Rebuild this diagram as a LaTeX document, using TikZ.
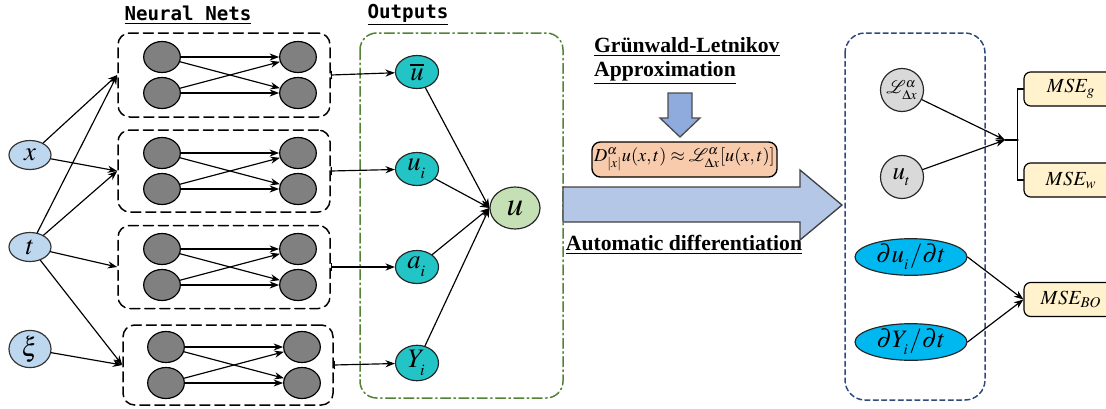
\documentclass[tikz,border=0pt]{standalone}
\usepackage{mathptmx}
\usepackage{fontspec}
\setmainfont{Liberation Serif}
\newfontfamily\labelfont{DejaVu Sans Mono}
\usetikzlibrary{arrows.meta,shapes.geometric}
\definecolor{inblue}{HTML}{BDD7EE}
\definecolor{outteal}{HTML}{22C4C6}
\definecolor{ugreen}{HTML}{C5E0B4}
\definecolor{formorange}{HTML}{F8CBAD}
\definecolor{arrowblue}{HTML}{B4C7E7}
\definecolor{downblue}{HTML}{8FAADC}
\definecolor{boxblue}{HTML}{2E4A7D}
\definecolor{boxgreen}{HTML}{548235}
\definecolor{msefill}{HTML}{FFF2CC}
\definecolor{dcyan}{HTML}{00B8F0}

\begin{document}
\begin{tikzpicture}[x=0.6pt,y=-0.6pt,>={Stealth[length=2mm]},line cap=round,line width=0.7pt,
  innode/.style={ellipse,draw=black!80,fill=inblue,minimum width=25.2pt,minimum height=17.4pt,inner sep=0pt,font=\fontsize{16}{16}\selectfont},
  neuron/.style={ellipse,draw=black,fill=black!50,minimum width=22pt,minimum height=18.6pt,inner sep=0pt},
  netbox/.style={draw,rounded corners=7pt,line width=0.9pt,dash pattern=on 6pt off 3pt,minimum width=127.2pt,inner sep=0pt},
  outnode/.style={ellipse,draw=black!85,fill=outteal,minimum width=25.8pt,minimum height=19.8pt,inner sep=0pt,font=\fontsize{16}{16}\selectfont},
  opnode/.style={circle,draw=black!85,fill=black!15,minimum size=25.8pt,inner sep=0pt},
  dnode/.style={ellipse,draw=black!85,fill=dcyan,minimum width=67.2pt,minimum height=18pt,inner sep=0pt,font=\fontsize{15}{15}\selectfont},
  msebox/.style={draw,rounded corners=4pt,fill=msefill,minimum width=56.4pt,minimum height=20.4pt,inner sep=0pt,font=\fontsize{12}{12}\selectfont},
  title/.style={font=\labelfont\bfseries\fontsize{11.5}{13}\selectfont},
  note/.style={font=\bfseries\fontsize{13}{15}\selectfont}]
\useasboundingbox (0,0) rectangle (1106,408);
\clip (0,0) rectangle (1106,408);

% headings
\node[title] (nettitle) at (188,15) {\underline{Neural Nets}};
\node[title] (outtitle) at (408,15) {\underline{Outputs}};

% inputs
\node[innode] (x) at (30,155) {$x$};
\node[innode] (t) at (30,247) {$t$};
\node[innode] (xi) at (30,349) {$\xi$};

% neural nets
\node[netbox,minimum height=50.4pt] (net1) at (224,75) {};
\node[netbox,minimum height=49.2pt] (net2) at (224,171) {};
\node[netbox,minimum height=49.8pt] (net3) at (224,267) {};
\node[netbox,minimum width=126pt,minimum height=48pt] (net4) at (228,365) {};
\foreach \i/\y/\dx in {1/75/0,2/171/0,3/267/0,4/365/4} {
  \node[neuron] (l\i a) at (162+\dx,\y-18) {};
  \node[neuron] (l\i b) at (162+\dx,\y+18) {};
  \node[neuron] (r\i a) at (298+\dx,\y-18) {};
  \node[neuron] (r\i b) at (298+\dx,\y+18) {};
  \draw[->] (l\i a) -- (r\i a);
  \draw[->] (l\i a) -- (r\i b);
  \draw[->] (l\i b) -- (r\i a);
  \draw[->] (l\i b) -- (r\i b);
}
\draw[->] (x) -- (net1.west);
\draw[->] (x) -- (net2.west);
\draw[->] (t) -- (net1.west);
\draw[->] (t) -- (net2.west);
\draw[->] (t) -- (net3.west);
\draw[->] (t) -- (net4.west);
\draw[->] (xi) -- (net4.west);

% outputs
\draw[boxgreen,line width=0.9pt,rounded corners=10pt,dash pattern=on 6pt off 2pt on 1pt off 2pt] (360,33) rectangle (563,398);
\node[outnode] (ubar) at (417,72) {$\overline{u}$};
\node[outnode] (ui) at (417,169) {$u_{_i}$};
\node[outnode] (ai) at (417,267) {$a_{_i}$};
\node[outnode] (yi) at (417,363) {$Y_{_i}$};
\node[ellipse,draw=black!85,fill=ugreen,minimum width=30pt,minimum height=25.2pt,inner sep=0pt,font=\fontsize{20}{20}\selectfont] (u) at (515,208) {$u$};
\draw[{Bar[width=5pt]}->] (net1.east) -- (ubar);
\draw[{Bar[width=5pt]}->] (net2.east) -- (ui);
\draw[{Bar[width=5pt]}->] (net3.east) -- (ai);
\draw[{Bar[width=5pt]}->] (net4.east) -- (yi);
\draw[->] (ubar) -- (u.west);
\draw[->] (ui) -- (u.west);
\draw[->] (ai) -- (u.west);
\draw[->] (yi) -- (u.west);

% approximation and differentiation
\node[note,anchor=west] (gl1) at (588,47) {\underline{Grünwald-Letnikov}};
\node[note,anchor=west] (gl2) at (588,73) {\underline{Approximation}};
\draw[fill=downblue,draw=black!70,line width=0.8pt,line join=miter]
  (668,93) -- (692,93) -- (692,118) -- (700,118) -- (680,137) -- (660,118) -- (668,118) -- cycle;
\node[draw,line width=0.8pt,rounded corners=5pt,fill=formorange,minimum width=111pt,minimum height=21pt,inner sep=0pt,font=\fontsize{11}{11}\selectfont] (form) at (684.5,159.5)
  {$D^{\alpha}_{|x|}u(x,t)\approx\mathcal{L}^{\alpha}_{\Delta x}[u(x,t)]$};
\draw[fill=arrowblue,draw=black!75,line width=0.8pt,line join=miter]
  (563,187) -- (800,187) -- (800,170) -- (842,205) -- (800,240) -- (800,222) -- (563,222) -- cycle;
\node[note] (autodiff) at (684,245) {\underline{Automatic differentiation}};

% losses
\draw[boxblue,line width=0.9pt,rounded corners=12pt,dash pattern=on 3pt off 2pt] (845,33) rectangle (985,400);
\node[opnode,font=\fontsize{11}{11}\selectfont] (lop) at (902,90) {$\mathcal{L}^{\alpha}_{\Delta x}$};
\node[opnode,font=\fontsize{15}{15}\selectfont] (ut) at (902,177) {$u_{_t}$};
\node[dnode] (dudt) at (911,257) {$\partial u_{_i}/\partial t$};
\node[dnode] (dydt) at (911,342) {$\partial Y_{_i}/\partial t$};
\node[msebox] (mseg) at (1071,89) {$MSE_{g}$};
\node[msebox] (msew) at (1071,180) {$MSE_{w}$};
\node[msebox] (msebo) at (1071,299.5) {$MSE_{BO}$};
\coordinate (junc) at (1005,140);
\draw[->] (lop) -- (junc);
\draw[->] (ut) -- (junc);
\draw (junc) -- ++(13,0);
\draw (mseg.west) -- ++(-6,0) |- (msew.west);
\draw[->] (dudt.east) -- (msebo.west);
\draw[->] (dydt.east) -- (msebo.west);
\end{tikzpicture}
\end{document}
